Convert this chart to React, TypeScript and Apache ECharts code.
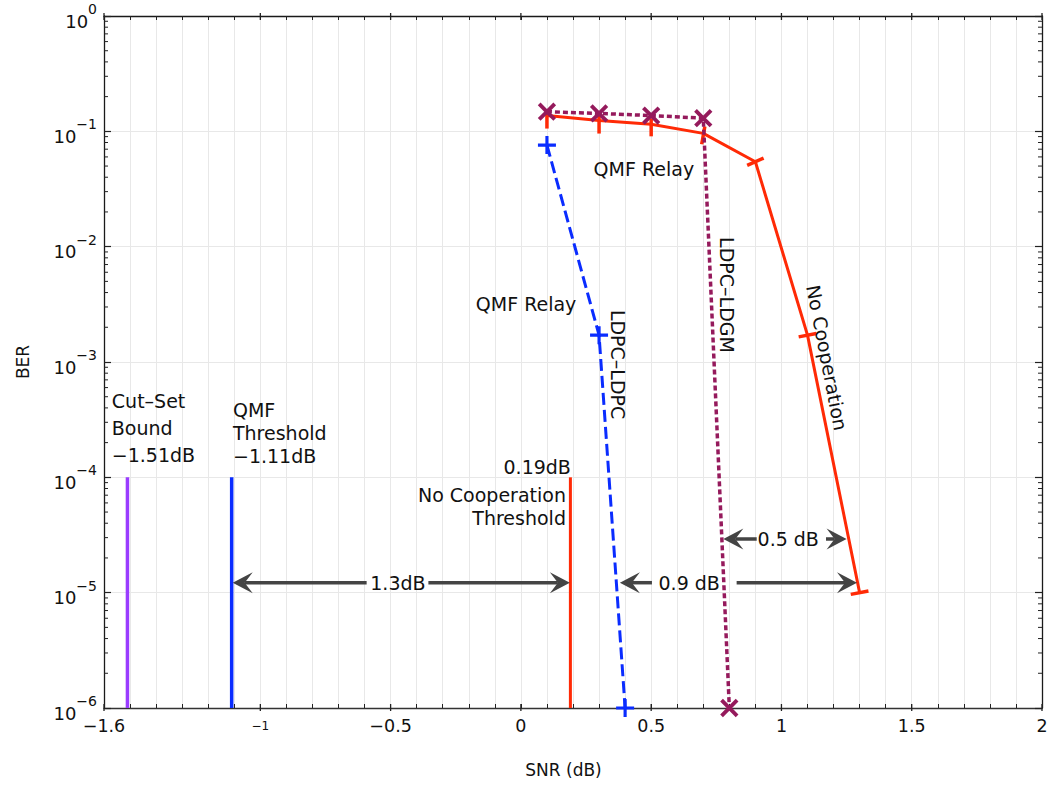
import React, { useEffect, useRef } from "react";
import * as echarts from "echarts";

const FONT = "DejaVu Sans";

// ---- axis ticks ----
const xTickLabels = [-1.6, -1, -0.5, 0, 0.5, 1, 1.5, 2];
const yDecades = [-6, -5, -4, -3, -2, -1, 0];
const minorMultipliers = [2, 3, 4, 5, 6, 7, 8, 9];

// ---- threshold / bound lines ----
const cutSetX = [-1.51, -1.51];
const cutSetY = [1e-6, 1e-4];
const qmfThrX = [-1.11, -1.11];
const qmfThrY = [1e-6, 1e-4];
const noCoopThrX = [0.19, 0.19];
const noCoopThrY = [1e-6, 1e-4];

// ---- BER curves ----
const ldpcLdpcX = [0.1, 0.3, 0.4];
const ldpcLdpcY = [0.076, 1.71e-3, 1e-6];
const ldpcLdgmX = [0.1, 0.3, 0.5, 0.7, 0.8];
const ldpcLdgmY = [0.148, 0.143, 0.137, 0.13, 1e-6];
const noCoopX = [0.1, 0.3, 0.5, 0.7, 0.9, 1.1, 1.3];
const noCoopY = [0.137, 0.124, 0.115, 0.096, 0.0545, 1.71e-3, 1e-5];

// ---- dimension arrows ----
const arrowX1 = [-1.106, -0.355, 0.38, 0.828, 0.777, 1.171];
const arrowX2 = [-0.592, 0.188, 0.503, 1.29, 0.905, 1.25];
const arrowY = [1.22e-5, 1.22e-5, 1.22e-5, 1.22e-5, 2.92e-5, 2.92e-5];
const arrowHeadAtStart = [1, 0, 1, 0, 1, 0];
const arrowHeadAtEnd = [0, 1, 0, 1, 0, 1];

// ---- annotations ----
const noteTexts = [
  "QMF Relay",
  "QMF Relay",
  "LDPC–LDPC",
  "LDPC–LDGM",
  "No Cooperation",
  "Cut–Set\nBound\n−1.51dB",
  "QMF\nThreshold\n−1.11dB",
  "0.19dB",
  "No Cooperation\nThreshold",
  "1.3dB",
  "0.9 dB",
  "0.5 dB",
];
const noteX = [0.472, 0.02, 0.371, 0.79, 1.175, -1.57, -1.105, 0.192, 0.173, -0.472, 0.646, 1.026];
const noteY = [0.0471, 3.18e-3, 9.5e-4, 3.81e-3, 1.09e-3, 2.68e-4, 2.42e-4, 1.23e-4, 5.58e-5, 1.22e-5, 1.22e-5, 2.92e-5];

// styles for annotations (not data)
const noteAlign = ["center", "center", "center", "center", "center", "left", "left", "right", "right", "center", "center", "center"];
const noteRotate = [0, 0, -90, -90, -79, 0, 0, 0, 0, 0, 0, 0];
const noteLineHeight = [22, 22, 22, 22, 22, 27, 23, 22, 23, 22, 22, 22];

// red tick-marker orientation (style)
const noCoopTickRotate = [90, 90, 90, 80, 24, 11, 11];
const noCoopTickOffset = [4, 4, 3, 2, 0, 0, 0];

const PLUS =
  "path://M8.25,0H11.75V8.25H20V11.75H11.75V20H8.25V11.75H0V8.25H8.25Z";
const BAR = "path://M0,0H20V4H0Z";

const RED = "#ff2a06";
const BLUE = "#0a2cff";
const VIOLET = "#9a3cff";
const MAROON = "#951a5c";
const ARROW = "#444444";

function zip(xs: number[], ys: number[]) {
  return xs.map((x, i) => [x, ys[i]]);
}

function isLabelled(v: number) {
  return xTickLabels.some((t) => Math.abs(t - v) < 1e-6);
}

function fmtNum(v: number) {
  const r = Math.round(v * 10) / 10;
  const s = String(Math.abs(r));
  return (r < 0 ? "−" : "") + s;
}

export default function App() {
  const ref = useRef<HTMLDivElement>(null);

  useEffect(() => {
    if (!ref.current) return;
    const chart = echarts.init(ref.current, undefined, { renderer: "svg" });

    const minorTickData: number[][] = [];
    yDecades.slice(0, -1).forEach((e) => {
      minorMultipliers.forEach((m) => minorTickData.push([-1.6, m * Math.pow(10, e)]));
    });
    const xMajorData = xTickLabels.map((x) => [x, 1e-6]);

    const axisLineStyle = { color: "#1a1a1a", width: 1.3 };

    const option: any = {
      animation: false,
      backgroundColor: "#ffffff",
      grid: {
        left: 104,
        right: 5,
        top: 16,
        bottom: 79,
        containLabel: false,
        outerBoundsMode: "none",
      },
      xAxis: [
        {
          type: "value",
          min: -1.6,
          max: 2,
          interval: 0.1,
          position: "bottom",
          name: "SNR (dB)",
          nameLocation: "middle",
          nameGap: 53,
          nameTextStyle: {
            fontFamily: FONT,
            fontSize: 17,
            color: "#111",
            padding: [0, 19, 0, 0],
          },
          axisLine: { show: true, onZero: false, lineStyle: { color: "#333", width: 1.3 } },
          axisTick: { show: true, inside: true, length: 4, lineStyle: { color: "#222", width: 1 } },
          axisLabel: {
            show: true,
            showMinLabel: true,
            showMaxLabel: true,
            margin: 7,
            formatter: (v: number) => {
              if (!isLabelled(v)) return "";
              const t = fmtNum(v);
              return Math.abs(v + 1) < 1e-6 ? `{s|${t}}` : `{n|${t}}`;
            },
            rich: {
              n: { fontFamily: FONT, fontSize: 17.5, color: "#111", lineHeight: 22 },
              s: { fontFamily: FONT, fontSize: 12, color: "#111", lineHeight: 22 },
            },
          },
          splitLine: { show: true, lineStyle: { color: "#e8e8e8", width: 1 } },
        },
        {
          type: "value",
          min: -1.6,
          max: 2,
          interval: 0.1,
          position: "top",
          axisLine: { show: true, onZero: false, lineStyle: axisLineStyle },
          axisTick: { show: true, inside: true, length: 4, lineStyle: { color: "#222", width: 1 } },
          axisLabel: { show: false },
          splitLine: { show: false },
        },
      ],
      yAxis: [
        {
          type: "log",
          logBase: 10,
          min: 1e-6,
          max: 1,
          position: "left",
          name: "BER",
          nameLocation: "middle",
          nameGap: 73,
          nameRotate: 90,
          nameTextStyle: { fontFamily: FONT, fontSize: 17, color: "#111" },
          axisLine: { show: true, onZero: false, lineStyle: axisLineStyle },
          axisTick: { show: true, inside: true, length: 7, lineStyle: { color: "#222", width: 1.2 } },
          axisLabel: {
            show: true,
            margin: 7,
            formatter: (v: number) => {
              const e = Math.round(Math.log10(v));
              return `{b|10}{s|${e < 0 ? "−" : ""}${Math.abs(e)}}`;
            },
            rich: {
              b: { fontFamily: FONT, fontSize: 18, color: "#111", lineHeight: 12, verticalAlign: "bottom" },
              s: { fontFamily: FONT, fontSize: 14, color: "#111", lineHeight: 28, verticalAlign: "top" },
            },
          },
          splitLine: { show: true, lineStyle: { color: "#e8e8e8", width: 1 } },
        },
        {
          type: "log",
          logBase: 10,
          min: 1e-6,
          max: 1,
          position: "right",
          axisLine: { show: true, onZero: false, lineStyle: axisLineStyle },
          axisTick: { show: true, inside: true, length: 7, lineStyle: { color: "#222", width: 1.2 } },
          axisLabel: { show: false },
          splitLine: { show: false },
        },
      ],
      series: [
        {
          name: "yMinorTicks",
          type: "custom",
          xAxisIndex: 0,
          yAxisIndex: 0,
          silent: true,
          encode: { x: 0, y: 1 },
          data: minorTickData,
          renderItem: (params: any, api: any) => {
            const cs = params.coordSys;
            const y = api.coord([-1.6, api.value(1)])[1];
            return {
              type: "group",
              children: [
                { type: "line", shape: { x1: cs.x, y1: y, x2: cs.x + 4, y2: y }, style: { stroke: "#222", lineWidth: 1 } },
                {
                  type: "line",
                  shape: { x1: cs.x + cs.width - 4, y1: y, x2: cs.x + cs.width, y2: y },
                  style: { stroke: "#222", lineWidth: 1 },
                },
              ],
            };
          },
          z: 1,
        },
        {
          name: "xMajorTicks",
          type: "custom",
          silent: true,
          encode: { x: 0, y: 1 },
          data: xMajorData,
          renderItem: (params: any, api: any) => {
            const cs = params.coordSys;
            const x = api.coord([api.value(0), 1e-6])[0];
            const yb = cs.y + cs.height;
            return {
              type: "group",
              children: [
                { type: "line", shape: { x1: x, y1: yb - 4, x2: x, y2: yb + 3 }, style: { stroke: "#222", lineWidth: 1.3 } },
                { type: "line", shape: { x1: x, y1: cs.y - 3, x2: x, y2: cs.y + 4 }, style: { stroke: "#222", lineWidth: 1.3 } },
              ],
            };
          },
          z: 1,
        },
        {
          name: "Cut-Set Bound",
          type: "line",
          data: zip(cutSetX, cutSetY),
          showSymbol: false,
          symbol: "none",
          lineStyle: { color: VIOLET, width: 3.5 },
          z: 3,
        },
        {
          name: "QMF Threshold",
          type: "line",
          data: zip(qmfThrX, qmfThrY),
          symbol: "none",
          lineStyle: { color: BLUE, width: 3.5 },
          z: 3,
        },
        {
          name: "No Cooperation Threshold",
          type: "line",
          data: zip(noCoopThrX, noCoopThrY),
          symbol: "none",
          lineStyle: { color: RED, width: 3 },
          z: 3,
        },
        {
          name: "No Cooperation",
          type: "line",
          data: noCoopX.map((x, i) => ({
            value: [x, noCoopY[i]],
            symbolRotate: noCoopTickRotate[i],
            symbolOffset: [0, noCoopTickOffset[i]],
          })),
          symbol: BAR,
          symbolSize: [18, 3.5],
          symbolKeepAspect: false,
          showSymbol: true,
          itemStyle: { color: RED },
          lineStyle: { color: RED, width: 3 },
          z: 4,
        },
        {
          name: "LDPC-LDPC",
          type: "line",
          data: zip(ldpcLdpcX, ldpcLdpcY),
          symbol: PLUS,
          symbolSize: 18,
          itemStyle: { color: BLUE },
          lineStyle: { color: BLUE, width: 3, type: [12, 5] },
          z: 5,
        },
        {
          name: "LDPC-LDGM",
          type: "line",
          data: zip(ldpcLdgmX, ldpcLdgmY),
          symbol: PLUS,
          symbolSize: 22,
          symbolRotate: 45,
          itemStyle: { color: MAROON },
          lineStyle: { color: MAROON, width: 3.5, type: [5, 3] },
          z: 6,
        },
        {
          name: "arrows",
          type: "custom",
          silent: true,
          encode: { x: [0, 1], y: 2 },
          data: arrowX1.map((x, i) => [x, arrowX2[i], arrowY[i], arrowHeadAtStart[i], arrowHeadAtEnd[i]]),
          renderItem: (params: any, api: any) => {
            const p1 = api.coord([api.value(0), api.value(2)]);
            const p2 = api.coord([api.value(1), api.value(2)]);
            const L = 20;
            const W = 21;
            const N = 12;
            const hs = api.value(3) === 1;
            const he = api.value(4) === 1;
            const y = p1[1];
            const children: any[] = [
              {
                type: "line",
                shape: { x1: hs ? p1[0] + N : p1[0], y1: y, x2: he ? p2[0] - N : p2[0], y2: y },
                style: { stroke: ARROW, lineWidth: 3.5 },
              },
            ];
            if (hs) {
              const t = p1[0];
              children.push({
                type: "polygon",
                shape: { points: [[t, y], [t + L, y - W / 2], [t + N, y], [t + L, y + W / 2]] },
                style: { fill: ARROW },
              });
            }
            if (he) {
              const t = p2[0];
              children.push({
                type: "polygon",
                shape: { points: [[t, y], [t - L, y - W / 2], [t - N, y], [t - L, y + W / 2]] },
                style: { fill: ARROW },
              });
            }
            return { type: "group", children };
          },
          z: 7,
        },
        {
          name: "notes",
          type: "custom",
          silent: true,
          encode: { x: 0, y: 1 },
          data: noteX.map((x, i) => [x, noteY[i], i]),
          renderItem: (params: any, api: any) => {
            const i = api.value(2);
            const p = api.coord([api.value(0), api.value(1)]);
            return {
              type: "text",
              x: p[0],
              y: p[1],
              rotation: (noteRotate[i] * Math.PI) / 180,
              style: {
                text: noteTexts[i],
                fill: "#111",
                fontFamily: FONT,
                fontSize: 19,
                align: noteAlign[i],
                verticalAlign: "middle",
                lineHeight: noteLineHeight[i],
              },
            };
          },
          z: 8,
        },
      ],
    };

    chart.setOption(option);
    return () => chart.dispose();
  }, []);

  return (
    <div
      ref={ref}
      style={{ position: "fixed", left: 0, top: 0, width: 1047, height: 787, background: "#fff" }}
    />
  );
}
